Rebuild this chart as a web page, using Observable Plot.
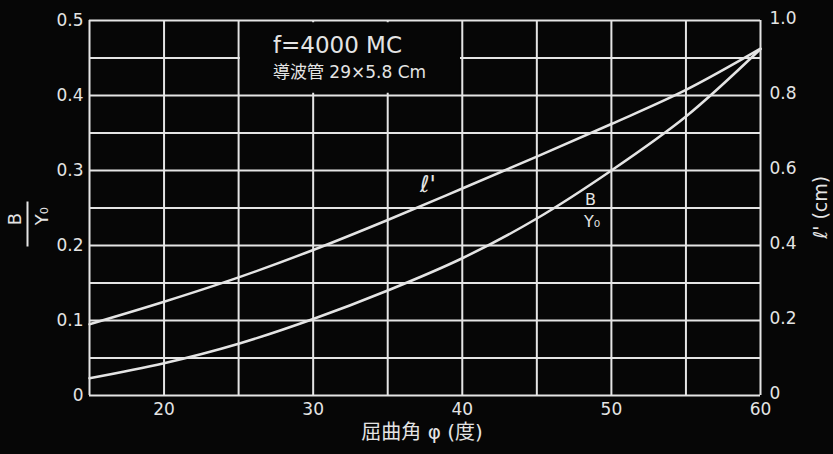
<!DOCTYPE html>
<html><head><meta charset="utf-8">
<script src="https://cdn.jsdelivr.net/npm/d3@7"></script>
<script src="https://cdn.jsdelivr.net/npm/@observablehq/plot@0.6"></script>
<style>
html,body{margin:0;padding:0;background:#060606;}
#chart svg{display:block;}
</style></head><body><div id="chart"></div>
<script>
// Data
const angles = [15, 20, 25, 30, 35, 40, 45, 50, 55, 60];
const lPrime = [0.19, 0.25, 0.315, 0.388, 0.468, 0.552, 0.637, 0.724, 0.815, 0.925]; // right axis (cm)
const bOverY0 = [0.023, 0.043, 0.069, 0.102, 0.14, 0.183, 0.236, 0.3, 0.372, 0.462]; // left axis

const xGrid = [15, 20, 25, 30, 35, 40, 45, 50, 55, 60];
const yGrid = [0, 0.05, 0.1, 0.15, 0.2, 0.25, 0.3, 0.35, 0.4, 0.45, 0.5];
const xTicks = [20, 30, 40, 50, 60];
const leftTicks = [0, 0.1, 0.2, 0.3, 0.4, 0.5];
const leftTickLabels = ["0", "0.1", "0.2", "0.3", "0.4", "0.5"];
const rightTicks = [0, 0.2, 0.4, 0.6, 0.8, 1.0];
const rightTickLabels = ["0", "0.2", "0.4", "0.6", "0.8", "1.0"];
const titleLines = ["f=4000 MC", "導波管 29×5.8 Cm"];
const xLabel = "屈曲角 φ (度)";
const rightLabel = "ℓ' (cm)";
const curveLabelL = "ℓ'";
// blank area behind the note (data units)
const noteBoxX = [25.12, 39.88];
const noteBoxY = [0.403, 0.497];

const ink = "#e4e4e4";
const bg = "#060606";
const font = "'DejaVu Sans', 'Noto Sans CJK JP', sans-serif";

const lineData = angles.map((a, i) => ({a, v: lPrime[i] / 2}));
const bData = angles.map((a, i) => ({a, v: bOverY0[i]}));
const leftFmt = d => leftTickLabels[leftTicks.findIndex(t => Math.abs(t - d) < 1e-9)];
const rightFmt = d => rightTickLabels[rightTicks.findIndex(t => Math.abs(t / 2 - d) < 1e-9)];

const chart = Plot.plot({
  width: 833,
  height: 454,
  marginLeft: 89,
  marginRight: 73,
  marginTop: 20,
  marginBottom: 59,
  style: {background: bg, color: ink, fontFamily: font, fontSize: "17px"},
  x: {domain: [15, 60]},
  y: {domain: [0, 0.5]},
  marks: [
    Plot.ruleX(xGrid, {stroke: ink, strokeWidth: 2, strokeOpacity: 1}),
    Plot.ruleY(yGrid, {stroke: ink, strokeWidth: 2, strokeOpacity: 1}),
    Plot.rect([0], {x1: noteBoxX[0], x2: noteBoxX[1], y1: noteBoxY[0], y2: noteBoxY[1], fill: bg}),
    Plot.line(lineData, {x: "a", y: "v", stroke: ink, strokeWidth: 2.5, curve: "catmull-rom"}),
    Plot.line(bData, {x: "a", y: "v", stroke: ink, strokeWidth: 2.5, curve: "catmull-rom"}),
    Plot.axisX(xTicks, {tickSize: 0, tickPadding: 7, fontSize: 17, label: null, tickFormat: d => String(d)}),
    Plot.axisY(leftTicks, {anchor: "left", tickSize: 0, tickPadding: 6, fontSize: 17, label: null, tickFormat: leftFmt}),
    Plot.axisY(rightTicks.map(t => t / 2), {anchor: "right", tickSize: 0, tickPadding: 9, dy: -2, fontSize: 17, label: null, tickFormat: rightFmt}),
    // x axis label
    Plot.text([xLabel], {frameAnchor: "bottom", x: () => 37.3, dy: 43, text: d => d, fontSize: 20, fill: ink}),
    // note
    Plot.text([titleLines[0]], {x: () => 27.3, y: () => 0.466, text: d => d, textAnchor: "start", fontSize: 23, fill: ink}),
    Plot.text([titleLines[1]], {x: () => 27.3, y: () => 0.431, text: d => d, textAnchor: "start", fontSize: 17, fill: ink}),
    // curve labels
    Plot.text([curveLabelL], {x: () => 37.7, y: () => 0.281, text: d => d, fontSize: 23, fontStyle: "italic", fill: ink, stroke: bg, strokeWidth: 3}),
    Plot.text(["B"], {x: () => 48.6, y: () => 0.261, text: d => d, fontSize: 16, fill: ink, stroke: bg, strokeWidth: 5}),
    Plot.text(["Y₀"], {x: () => 48.7, y: () => 0.231, text: d => d, fontSize: 16, fill: ink, stroke: bg, strokeWidth: 5}),
    Plot.ruleY([0.25], {x1: 47.8, x2: 49.6, stroke: ink, strokeWidth: 2}),
    // left axis label (rotated fraction B / Y0)
    Plot.text(["B"], {frameAnchor: "left", y: () => 0.227, dx: -74, text: d => d, rotate: -90, fontSize: 18, fill: ink}),
    Plot.ruleX([15], {y1: 0.198, y2: 0.258, dx: -62, stroke: ink, strokeWidth: 2}),
    Plot.text(["Y₀"], {frameAnchor: "left", y: () => 0.227, dx: -47, text: d => d, rotate: -90, fontSize: 18, fill: ink}),
    // right axis label
    Plot.text([rightLabel], {frameAnchor: "right", y: () => 0.293, dx: 60, text: d => d, rotate: -90, fontSize: 19, fill: ink})
  ]
});
document.getElementById("chart").appendChild(chart);
</script>
</body></html>
